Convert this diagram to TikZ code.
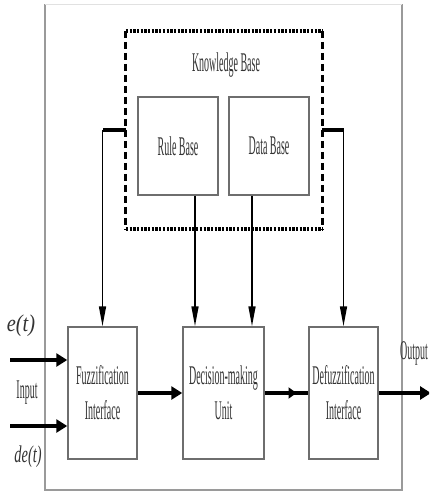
\documentclass[tikz,border=0pt]{standalone}
\usepackage{fontspec}
\setmainfont{Liberation Serif}
\newfontfamily\condfont[FakeStretch=0.37]{Liberation Serif}
\newfontfamily\demathfont[FakeStretch=0.6]{Liberation Serif Italic}
\newfontfamily\eitfont[FakeStretch=0.85]{Liberation Serif Italic}
\usetikzlibrary{arrows.meta,calc}
\definecolor{txt}{HTML}{333333}
\definecolor{edge}{HTML}{6E6E6E}
\definecolor{frame}{HTML}{9A9A9A}
\tikzset{
  blockbox/.style={draw=edge,line width=1.5pt,fill=white,inner sep=0pt,
    text=txt,align=center,font=\condfont\fontsize{27}{35}\selectfont},
  lbl/.style={inner sep=0pt,text=txt,font=\condfont\fontsize{27}{30}\selectfont},
  thinarrow/.style={line width=1.6pt,-{Triangle[length=20pt,width=7pt]}},
  thickline/.style={line width=3.5pt},
  thickarrow/.style={line width=4pt,-{Triangle[length=11pt,width=13pt]}},
  midarrow/.style={line width=4pt,-{Triangle[length=8pt,width=11pt]}},
  frameline/.style={draw=frame,line width=1.2pt},
}
\begin{document}
\begin{tikzpicture}[x=1pt,y=-1pt]
\clip (0,0) rectangle (429,493);
\fill[white] (0,0) rectangle (429,493);
% outer frame
\draw[frameline] (45,4) -- (45,490) -- (402,490) -- (402,4);
\draw[draw=frame!30,line width=1pt] (45,4) -- (402,4);
% knowledge base
\node[minimum width=196pt,minimum height=198pt,inner sep=0pt] (kb) at (224,130) {};
\draw[line width=4pt,dash pattern=on 2.3pt off 1.4pt] (kb.north west) -- (kb.north east);
\draw[line width=4pt,dash pattern=on 2.3pt off 1.4pt] (kb.south west) -- (kb.south east);
\draw[line width=3pt,dash pattern=on 7pt off 4pt] (kb.north west) -- (kb.south west);
\draw[line width=3pt,dash pattern=on 7pt off 4pt] (kb.north east) -- (kb.south east);
\node[lbl,anchor=base] (kbl) at (226,71) {Knowledge Base};
\node[blockbox,minimum width=80pt,minimum height=98pt] (rule) at (178,146) {Rule Base};
\node[blockbox,minimum width=80pt,minimum height=98pt] (data) at (269,146) {Data Base};
% lower blocks
\node[blockbox,minimum width=69pt,minimum height=132pt] (fuzz) at (102.5,393) {Fuzzification\\Interface};
\node[blockbox,minimum width=81pt,minimum height=132pt] (dec) at (223.5,393) {Decision-making\\Unit};
\node[blockbox,minimum width=69pt,minimum height=132pt] (defz) at (343.5,393) {Defuzzification\\Interface};
% KB connectors
\coordinate (lk) at (kb.west -| fuzz.north);
\coordinate (rk) at (kb.east -| defz.north);
\draw[thickline] (kb.west) -- (lk);
\draw[thinarrow] (lk) -- (fuzz.north);
\draw[thickline] (kb.east) -- (rk);
\draw[thinarrow] (rk) -- (defz.north);
\coordinate (ro) at ([xshift=17pt]rule.south);
\coordinate (do) at ([xshift=-17pt]data.south);
\draw[thinarrow] (ro) -- (ro |- dec.north);
\draw[thinarrow] (do) -- (do |- dec.north);
% inputs
\coordinate (ein) at (10,360);
\coordinate (dein) at (10,426);
\draw[thickarrow] (ein) -- (ein -| fuzz.west);
\draw[thickarrow] (dein) -- (dein -| fuzz.west);
\node[inner sep=0pt,text=txt,font=\eitfont\fontsize{24}{24}\selectfont] (el) at (21,326) {e(t)};
\node[lbl] (inl) at (27,393) {Input};
\node[inner sep=0pt,text=txt,font=\demathfont\fontsize{24}{24}\selectfont] (del) at (28,457) {de(t)};
% flow
\draw[thickarrow] (fuzz.east) -- (dec.west);
\draw[thickline] (dec.east) -- (defz.west);
\coordinate (mid) at ($(dec.east)!0.73!(defz.west)$);
\draw[midarrow] (dec.east) -- (mid);
\coordinate (outp) at (431,393);
\draw[thickarrow] (defz.east) -- (outp);
\node[lbl,anchor=west] (outl) at (400,353) {Output};
\end{tikzpicture}
\end{document}
